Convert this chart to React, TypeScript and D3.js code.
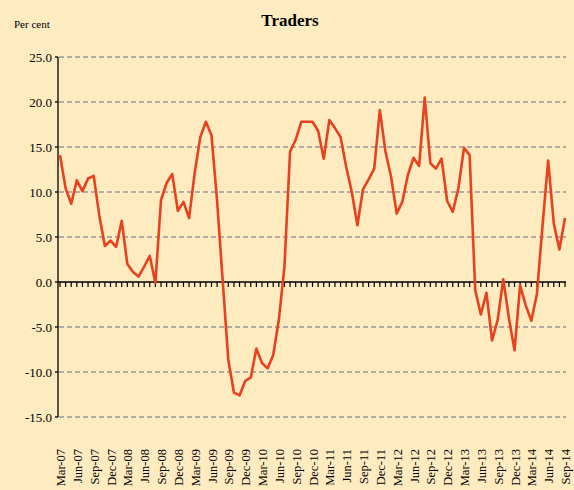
import React, { useEffect, useRef } from 'react';
import { select, scaleLinear, line, range } from 'd3';

const monthNames = ['Jan', 'Feb', 'Mar', 'Apr', 'May', 'Jun', 'Jul', 'Aug', 'Sep', 'Oct', 'Nov', 'Dec'];

// Mar-07 .. Sep-14, monthly
const values2007 = [14.1, 10.4, 8.7, 11.3, 10.1, 11.5, 11.8, 7.4, 4.0, 4.6];
const values2008 = [3.9, 6.8, 2.0, 1.1, 0.6, 1.7, 2.9, -0.1, 9.1, 11.0, 12.0, 7.9];
const values2009 = [8.9, 7.1, 12.1, 16.1, 17.8, 16.3, 9.0, 0.1, -8.7, -12.3, -12.6, -11.0];
const values2010 = [-10.6, -7.4, -9.0, -9.6, -8.1, -4.2, 1.7, 14.5, 15.8, 17.8, 17.8, 17.8];
const values2011 = [16.8, 13.7, 18.0, 17.1, 16.1, 12.8, 10.0, 6.3, 10.3, 11.4, 12.6, 19.1];
const values2012 = [14.5, 11.7, 7.6, 8.9, 11.9, 13.8, 12.9, 20.5, 13.2, 12.6, 13.7, 9.0];
const values2013 = [7.8, 10.4, 14.9, 14.1, -0.9, -3.6, -1.2, -6.5, -4.2, 0.3, -4.0, -7.6];
const values2014 = [-0.4, -2.6, -4.3, -1.3, 6.3, 13.5, 6.5, 3.6, 7.1];

const values = [
  ...values2007, ...values2008, ...values2009, ...values2010,
  ...values2011, ...values2012, ...values2013, ...values2014,
];

const months = values.map((_, i) => {
  const m = (2 + i) % 12;
  const y = 7 + Math.floor((2 + i) / 12);
  return `${monthNames[m]}-${String(y).padStart(2, '0')}`;
});

const yTicks = [25, 20, 15, 10, 5, 0, -5, -10, -15];

const App: React.FC = () => {
  const svgRef = useRef<SVGSVGElement | null>(null);
  const width = 574;
  const height = 490;

  useEffect(() => {
    document.body.style.margin = '0';
    if (!svgRef.current) return;
    const svg = select(svgRef.current);
    svg.selectAll('*').remove();

    const xScale = scaleLinear().domain([0, values.length - 1]).range([60, 565]);
    const yScale = scaleLinear().domain([-15, 25]).range([417, 57]);
    const font = '"Liberation Serif", "Times New Roman", serif';

    svg.append('rect').attr('width', width).attr('height', height).attr('fill', '#FEEBC0');

    // title
    svg.append('text')
      .attr('x', 290).attr('y', 26)
      .attr('text-anchor', 'middle')
      .attr('font-family', font).attr('font-size', 17).attr('font-weight', 'bold')
      .text('Traders');

    svg.append('text')
      .attr('x', 14).attr('y', 28)
      .attr('font-family', font).attr('font-size', 11)
      .text('Per cent');

    // gridlines
    svg.append('g').selectAll('line')
      .data(yTicks.filter(d => d !== 0))
      .enter().append('line')
      .attr('x1', 59).attr('x2', 566)
      .attr('y1', d => yScale(d)).attr('y2', d => yScale(d))
      .attr('stroke', '#999').attr('stroke-width', 1.3).attr('stroke-dasharray', '5,3');

    // y axis
    svg.append('line')
      .attr('x1', 58).attr('x2', 58).attr('y1', yScale(25)).attr('y2', yScale(-15))
      .attr('stroke', '#000').attr('stroke-width', 1.3);
    const yt = svg.append('g');
    yt.selectAll('line').data(yTicks).enter().append('line')
      .attr('x1', 55).attr('x2', 58)
      .attr('y1', d => yScale(d)).attr('y2', d => yScale(d))
      .attr('stroke', '#000').attr('stroke-width', 1.3);
    yt.selectAll('text').data(yTicks).enter().append('text')
      .attr('x', 52).attr('y', d => yScale(d) + 4.5)
      .attr('text-anchor', 'end')
      .attr('font-family', font).attr('font-size', 13)
      .text(d => d.toFixed(1));

    // zero line with monthly ticks
    svg.append('line')
      .attr('x1', 58).attr('x2', 566).attr('y1', yScale(0)).attr('y2', yScale(0))
      .attr('stroke', '#000').attr('stroke-width', 1.3);
    svg.append('g').selectAll('line')
      .data(range(values.length))
      .enter().append('line')
      .attr('x1', d => xScale(d)).attr('x2', d => xScale(d))
      .attr('y1', yScale(0)).attr('y2', yScale(0) + 5)
      .attr('stroke', '#000').attr('stroke-width', 1.2);

    // x labels
    svg.append('g').selectAll('text')
      .data(range(0, values.length, 3))
      .enter().append('text')
      .attr('transform', d => `translate(${xScale(d) + 5},449) rotate(-90)`)
      .attr('text-anchor', 'end')
      .attr('font-family', font).attr('font-size', 12.5)
      .text(d => months[d]);

    // series
    const path = line<number>()
      .x((_, i) => xScale(i))
      .y(d => yScale(d));
    svg.append('path')
      .datum(values)
      .attr('d', path)
      .attr('fill', 'none')
      .attr('stroke', '#E8411E')
      .attr('stroke-width', 2.6)
      .attr('stroke-linejoin', 'round');
  }, []);

  return <svg ref={svgRef} width={width} height={height} style={{ display: 'block' }} />;
};

export default App;
